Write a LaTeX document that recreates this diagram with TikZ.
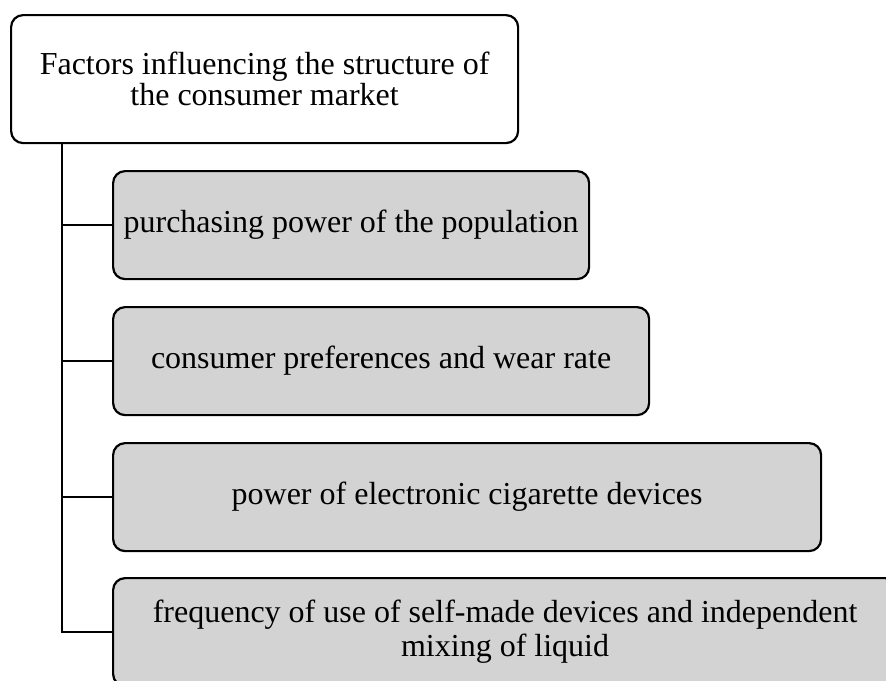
\documentclass[tikz,border=0pt]{standalone}
\usepackage{fontspec}
\setmainfont{Liberation Serif}
\usetikzlibrary{calc}
\definecolor{boxgray}{RGB}{211,211,211}
\begin{document}
\begin{tikzpicture}[x=1pt,y=1pt,
  basebox/.style={draw=black, line width=2.2pt, rounded corners=12pt, align=center,
    inner sep=0pt, anchor=north west, minimum height=108pt,
    font=\fontsize{32}{31}\selectfont},
  topbox/.style={basebox, fill=white, minimum height=128pt},
  factorbox/.style={basebox, fill=boxgray},
  link/.style={draw=black, line width=2.7pt}]
\useasboundingbox (0,0) rectangle (886,-680);
\clip (0,0) rectangle (886,-680);
\node[topbox, minimum width=507pt] (top) at (10,-14) {Factors influencing the structure of\\the consumer market};
\node[factorbox, minimum width=476pt] (b1) at (112,-170) {purchasing power of the population};
\node[factorbox, minimum width=536pt] (b2) at (112,-306) {consumer preferences and wear rate};
\node[factorbox, minimum width=708pt] (b3) at (112,-442) {power of electronic cigarette devices};
\node[factorbox, minimum width=784pt, font=\fontsize{32}{34}\selectfont] (b4) at (112,-577) {frequency of use of self-made devices and independent\\mixing of liquid};
\coordinate (s0) at ($(top.south west)+(52,0)$);
\draw[link] (s0) |- (b4.west);
\draw[link] (s0 |- b1.west) -- (b1.west);
\draw[link] (s0 |- b2.west) -- (b2.west);
\draw[link] (s0 |- b3.west) -- (b3.west);
\end{tikzpicture}
\end{document}
